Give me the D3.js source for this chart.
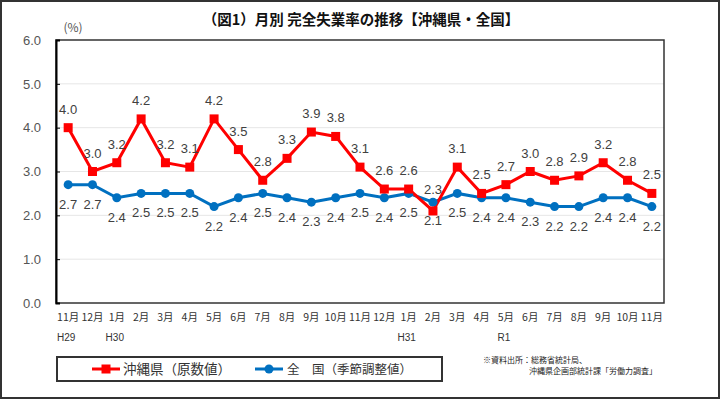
<!DOCTYPE html>
<html><head><meta charset="utf-8">
<script src="https://cdn.jsdelivr.net/npm/d3@7"></script>
<style>
html,body{margin:0;padding:0;background:#fff;}
svg{display:block;}
</style></head>
<body>
<svg id="c" width="720" height="399"></svg>
<script>
const months = ["11月","12月","1月","2月","3月","4月","5月","6月","7月","8月","9月","10月","11月","12月","1月","2月","3月","4月","5月","6月","7月","8月","9月","10月","11月"];
const eraLabels = ["H29","","H30","","","","","","","","","","","","H31","","","","R1","","","","","",""];
const okinawa = [4.0,3.0,3.2,4.2,3.2,3.1,4.2,3.5,2.8,3.3,3.9,3.8,3.1,2.6,2.6,2.1,3.1,2.5,2.7,3.0,2.8,2.9,3.2,2.8,2.5];
const national = [2.7,2.7,2.4,2.5,2.5,2.5,2.2,2.4,2.5,2.4,2.3,2.4,2.5,2.4,2.5,2.3,2.5,2.4,2.4,2.3,2.2,2.2,2.4,2.4,2.2];
const yTicks = [0,1,2,3,4,5,6];
const seriesNames = ["沖縄県（原数値）","全　国（季節調整値）"];
const titleText = "（図1）月別  完全失業率の推移【沖縄県・全国】";
const sourceLines = ["※資料出所：総務省統計局、","沖縄県企画部統計課「労働力調査」"];
// index where label positions are swapped (red below, blue above)
const swappedLabelIdx = [15];

const svg = d3.select("#c");
const font = "'Noto Sans CJK JP','Noto Sans',sans-serif";
const numFont = "'Liberation Sans',Arial,sans-serif";
const W = 720, H = 399;
const m = {left:56, top:40, right:664, bottom:303};

svg.append("rect").attr("x",1).attr("y",1).attr("width",W-2).attr("height",H-2)
  .attr("fill","#fff").attr("stroke","#333").attr("stroke-width",2);

const x = d3.scaleBand().domain(d3.range(months.length)).range([m.left,m.right]).padding(0);
const cx = i => x(i) + x.bandwidth()/2;
const y = d3.scaleLinear().domain([0,6]).range([m.bottom,m.top]);

// gridlines
svg.append("g").selectAll("line").data(yTicks.slice(1,-1)).join("line")
  .attr("x1",m.left).attr("x2",m.right).attr("y1",d=>y(d)).attr("y2",d=>y(d))
  .attr("stroke","#e6e6e6").attr("stroke-width",1);

// frame
svg.append("rect").attr("x",m.left).attr("y",m.top).attr("width",m.right-m.left).attr("height",m.bottom-m.top)
  .attr("fill","none").attr("stroke","#333").attr("stroke-width",1.5);

// y axis
const yAxis = d3.axisLeft(y).tickValues(yTicks).tickFormat(d3.format(".1f")).tickSize(-4).tickPadding(15);
const ga = svg.append("g").attr("transform",`translate(${m.left},0)`).call(yAxis);
ga.select(".domain").attr("stroke","#000").attr("stroke-width",2);
ga.selectAll(".tick line").attr("stroke","#000");
ga.selectAll(".tick text").attr("font-family",numFont).attr("font-size",13).attr("fill","#555");

svg.append("text").attr("x",73).attr("y",32).attr("text-anchor","middle")
  .attr("font-family",font).attr("font-size",12).attr("fill","#555").text("(%)");

// title
svg.append("text").attr("x",361).attr("y",25).attr("text-anchor","middle")
  .attr("font-family",font).attr("font-weight","bold").attr("font-size",14.5).attr("fill","#111").text(titleText);

// x labels
const xg = svg.append("g");
xg.selectAll("text.m").data(months).join("text").attr("class","m")
  .attr("x",(d,i)=>cx(i)).attr("y",321).attr("text-anchor","middle")
  .attr("font-family",font).attr("font-size",10.5).attr("fill","#333").text(d=>d);
xg.selectAll("text.e").data(eraLabels).join("text").attr("class","e")
  .attr("x",(d,i)=>cx(i)-2).attr("y",341).attr("text-anchor","middle")
  .attr("font-family",numFont).attr("font-size",10).attr("fill","#333").text(d=>d);

// lines
const line = d3.line().x((d,i)=>cx(i)).y(d=>y(d));
svg.append("path").datum(national).attr("d",line).attr("fill","none").attr("stroke","#0070c0").attr("stroke-width",3);
svg.append("path").datum(okinawa).attr("d",line).attr("fill","none").attr("stroke","#ff0000").attr("stroke-width",3);

svg.append("g").selectAll("circle").data(national).join("circle")
  .attr("cx",(d,i)=>cx(i)).attr("cy",d=>y(d)).attr("r",4.5).attr("fill","#0070c0");
svg.append("g").selectAll("rect").data(okinawa).join("rect")
  .attr("x",(d,i)=>cx(i)-4.5).attr("y",d=>y(d)-4.5).attr("width",9).attr("height",9).attr("fill","#ff0000");

// data labels
const lab = svg.append("g").attr("font-family",numFont).attr("font-size",13).attr("fill","#404040").attr("text-anchor","middle");
lab.selectAll("text.o").data(okinawa).join("text").attr("class","o")
  .attr("x",(d,i)=>cx(i)).attr("y",(d,i)=> swappedLabelIdx.includes(i) ? y(d)+14 : y(d)-14)
  .text(d=>d.toFixed(1));
lab.selectAll("text.n").data(national).join("text").attr("class","n")
  .attr("x",(d,i)=>cx(i)).attr("y",(d,i)=> swappedLabelIdx.includes(i) ? y(d)-8 : y(d)+24)
  .text(d=>d.toFixed(1));

// legend
svg.append("rect").attr("x",57).attr("y",357).attr("width",385).attr("height",24)
  .attr("fill","#fff").attr("stroke","#333").attr("stroke-width",2);
const lg = svg.append("g");
lg.append("line").attr("x1",92).attr("x2",120).attr("y1",369).attr("y2",369).attr("stroke","#ff0000").attr("stroke-width",3);
lg.append("rect").attr("x",101.5).attr("y",364.5).attr("width",9).attr("height",9).attr("fill","#ff0000");
lg.append("text").attr("x",123).attr("y",374).attr("font-family",font).attr("font-size",13.5).attr("fill","#333").text(seriesNames[0]);
lg.append("line").attr("x1",255).attr("x2",283).attr("y1",369).attr("y2",369).attr("stroke","#0070c0").attr("stroke-width",3);
lg.append("circle").attr("cx",269).attr("cy",369).attr("r",4.5).attr("fill","#0070c0");
lg.append("text").attr("x",287).attr("y",374).attr("font-family",font).attr("font-size",12.5).attr("fill","#333").text(seriesNames[1]);

// source
svg.append("text").attr("x",483).attr("y",363).attr("font-family",font).attr("font-size",8).attr("fill","#222").text(sourceLines[0]);
svg.append("text").attr("x",529).attr("y",374).attr("font-family",font).attr("font-size",8).attr("fill","#222").text(sourceLines[1]);
</script>
</body></html>
